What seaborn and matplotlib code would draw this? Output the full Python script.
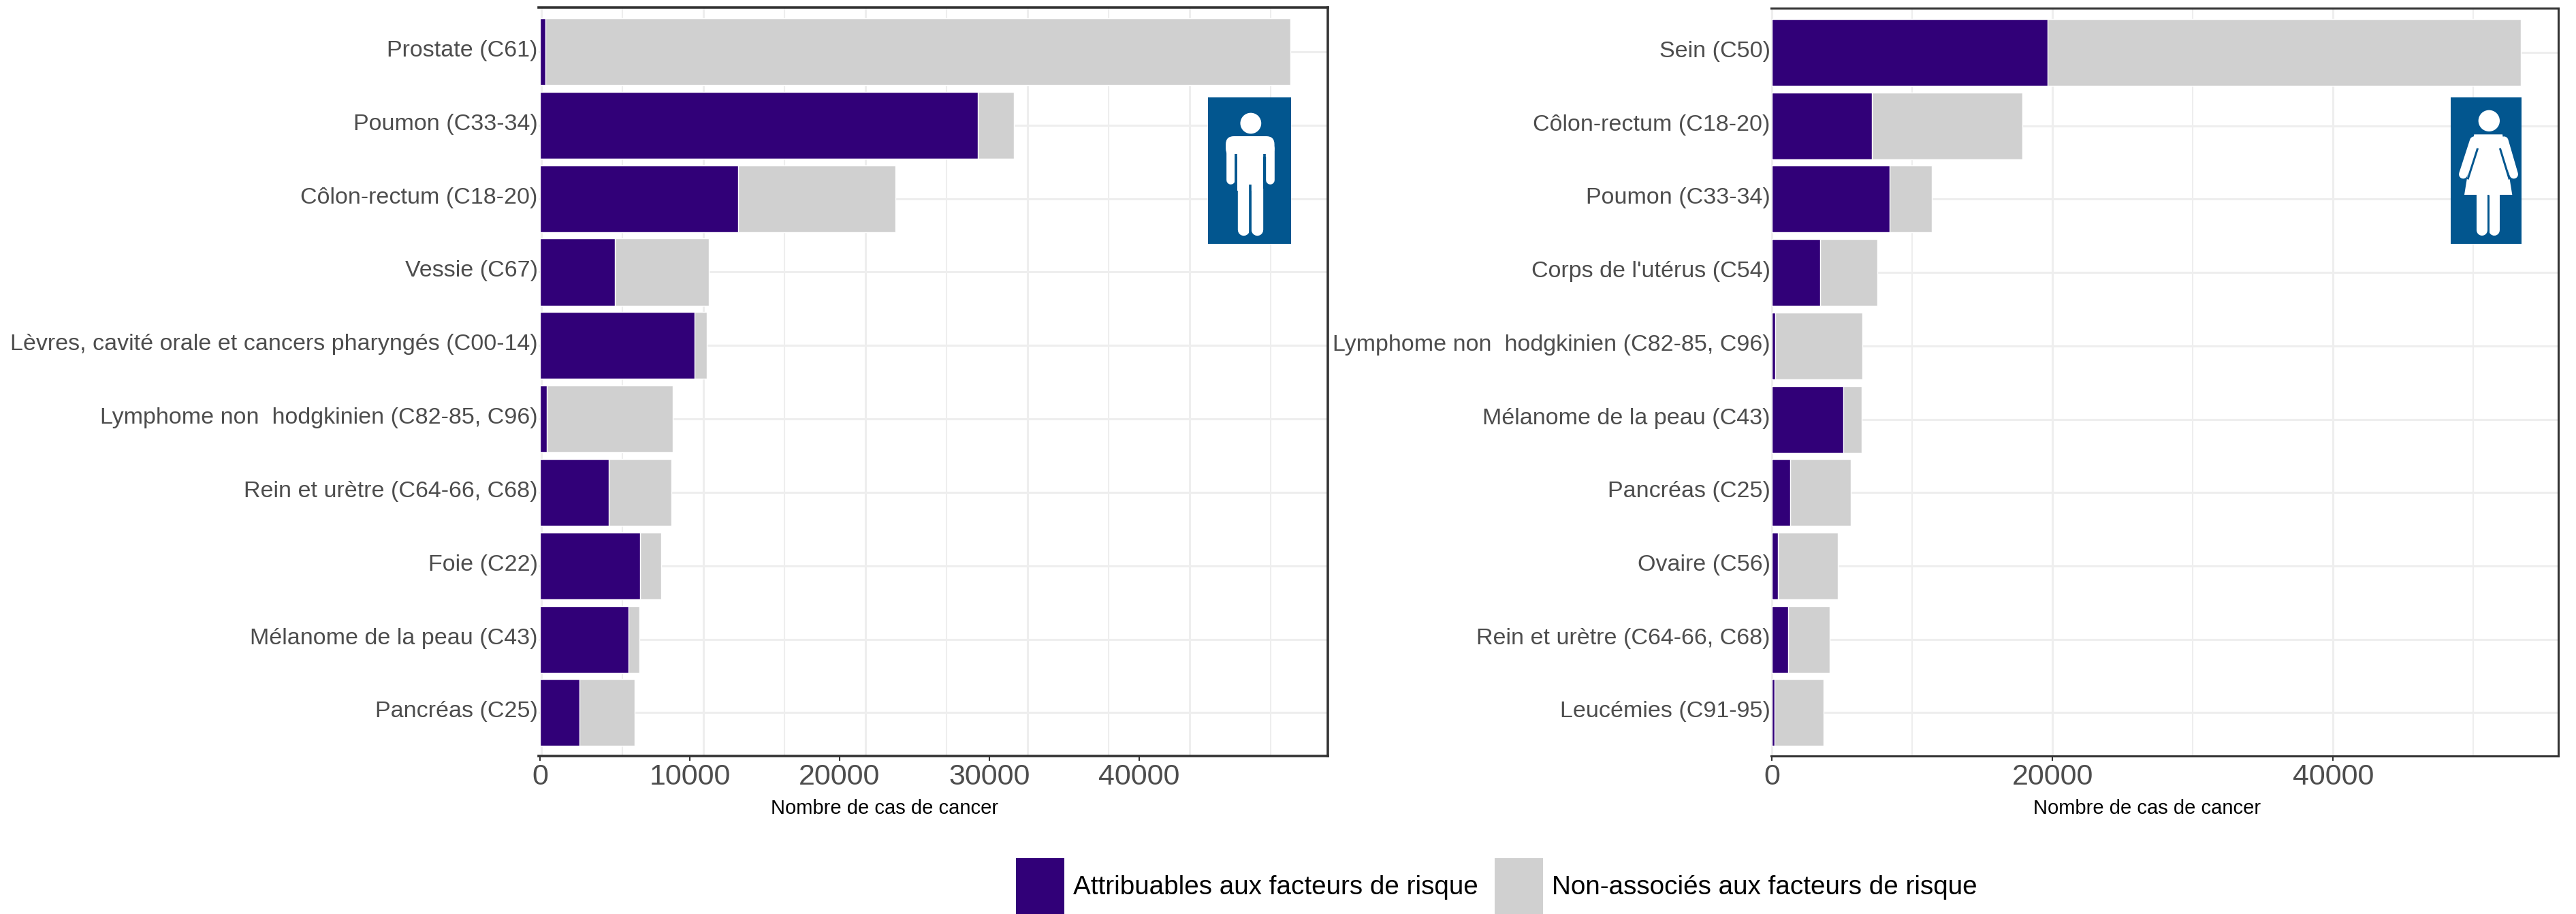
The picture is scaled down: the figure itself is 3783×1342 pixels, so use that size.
import matplotlib
matplotlib.use('Agg')
import matplotlib.pyplot as plt
import matplotlib.transforms as mtrans
from matplotlib.patches import Circle, FancyBboxPatch, Patch, Polygon, Rectangle
import pandas as pd
import seaborn as sns

W, H = 3783, 1342

# men
men_sites = ['Prostate (C61)', 'Poumon (C33-34)', 'Côlon-rectum (C18-20)', 'Vessie (C67)',
             'Lèvres, cavité orale et cancers pharyngés (C00-14)',
             'Lymphome non  hodgkinien (C82-85, C96)', 'Rein et urètre (C64-66, C68)',
             'Foie (C22)', 'Mélanome de la peau (C43)', 'Pancréas (C25)']
men_attrib = [377, 29240, 13245, 4980, 10340, 470, 4610, 6660, 5890, 2650]
men_total = [50090, 31620, 23710, 11290, 11150, 8880, 8770, 8070, 6640, 6330]

# women
women_sites = ['Sein (C50)', 'Côlon-rectum (C18-20)', 'Poumon (C33-34)', "Corps de l'utérus (C54)",
               'Lymphome non  hodgkinien (C82-85, C96)', 'Mélanome de la peau (C43)',
               'Pancréas (C25)', 'Ovaire (C56)', 'Rein et urètre (C64-66, C68)', 'Leucémies (C91-95)']
women_attrib = [19650, 7106, 8377, 3435, 212, 5083, 1294, 424, 1153, 165]
women_total = [53380, 17836, 11389, 7506, 6424, 6377, 5600, 4682, 4094, 3671]

men_ticks = [0, 10000, 20000, 30000, 40000]
women_ticks = [0, 20000, 40000]
legend_labels = ['Attribuables aux facteurs de risque', 'Non-associés aux facteurs de risque']
xlabel = 'Nombre de cas de cancer'

PURPLE = '#310078'
GREY = '#d0d0d0'
FRAME = '#333333'
TEXT = '#4d4d4d'
GRID = '#eeeeee'
ICON = '#02568f'

sns.set_theme(style='white')
plt.rcParams['font.family'] = ['Liberation Sans', 'DejaVu Sans']


def px_axes(x0, x1, y0, y1):
    ''' axes from pixel box, y counted from the top '''
    return fig.add_axes([x0 / W, 1 - y1 / H, (x1 - x0) / W, (y1 - y0) / H])


def draw_panel(ax, sites, attrib, total, ticks, xlim, grid_minor, grid_major, label_x, frame_w):
    df = pd.DataFrame({'site': sites, 'attrib': attrib, 'total': total})
    for y in range(len(sites)):
        ax.axhline(y, color=GRID, lw=2.2, zorder=0)
    for x in grid_minor:
        ax.axvline(x, color=GRID, lw=1.5, zorder=0)
    for x in grid_major:
        ax.axvline(x, color=GRID, lw=2.2, zorder=0)

    sns.barplot(data=df, y='site', x='total', color=GREY, saturation=1, width=0.91, ax=ax, zorder=2)
    sns.barplot(data=df, y='site', x='attrib', color=PURPLE, saturation=1, width=0.91, ax=ax, zorder=3)

    ax.set_xlim(*xlim)
    ax.set_ylim(9.59, -0.603)
    ax.set_xticks(ticks)
    ax.set_xticklabels([str(t) for t in ticks])
    ax.set_ylabel('')
    ax.set_xlabel(xlabel, fontsize=21, color='black')
    ax.xaxis.set_label_coords(label_x, -0.07)
    ax.xaxis.label.set_va('center')
    ax.tick_params(axis='x', labelsize=31, labelcolor=TEXT, length=5, width=1.5, color=FRAME, pad=3, bottom=True)
    ax.tick_params(axis='y', labelsize=24.5, labelcolor=TEXT, length=0, pad=1)
    # labels sit a little above the bar centres
    up = mtrans.ScaledTranslation(0, 5 / 100, fig.dpi_scale_trans)
    for lab in ax.get_yticklabels():
        lab.set_transform(lab.get_transform() + up)

    ax.spines['left'].set_visible(False)
    for side in ['top', 'right', 'bottom']:
        ax.spines[side].set_color(FRAME)
        ax.spines[side].set_linewidth(frame_w)
    ax.set_axisbelow(True)


def icon_axes(x0, x1, y0, y1, d_x, d_y):
    ax = px_axes(x0, x1, y0, y1)
    ax.set_facecolor(ICON)
    ax.set_xlim(*d_x)
    ax.set_ylim(*d_y)
    ax.set_xticks([])
    ax.set_yticks([])
    for s in ax.spines.values():
        s.set_visible(False)
    return ax


def limb(ax, xs, ys, width, color='white', cap='round'):
    # width is in zoomed units, 3 of them to a pixel
    ax.plot(xs, ys, color=color, lw=width / 3 * 0.72, solid_capstyle=cap)


def draw_man(ax):
    ax.add_patch(Circle((1010, 543), 46, color='white', lw=0))
    ax.add_patch(FancyBboxPatch((900, 600), 214, 90, boxstyle='round,pad=0,rounding_size=36',
                                mutation_aspect=1, color='white', lw=0))
    limb(ax, [920, 920], [650, 792], 38)
    limb(ax, [1094, 1094], [650, 792], 38)
    ax.add_patch(Rectangle((950, 620), 114, 220, color='white', lw=0))
    limb(ax, [977, 977], [800, 1012], 52)
    limb(ax, [1037, 1037], [800, 1012], 52)
    limb(ax, [945, 945], [678, 830], 11, ICON, 'butt')
    limb(ax, [1069, 1069], [678, 830], 11, ICON, 'butt')
    limb(ax, [1007, 1007], [812, 1074], 11, ICON, 'butt')


def draw_woman(ax):
    ax.add_patch(Circle((766, 532), 47, color='white', lw=0))
    ax.add_patch(Polygon([(700, 592), (825, 592), (868, 858), (657, 858)], color='white', lw=0))
    limb(ax, [700, 652], [620, 768], 38)
    limb(ax, [832, 875], [620, 768], 38)
    limb(ax, [735, 735], [850, 1014], 48)
    limb(ax, [790, 790], [850, 1014], 48)
    limb(ax, [716, 672], [653, 790], 9, ICON, 'butt')
    limb(ax, [814, 856], [653, 790], 9, ICON, 'butt')
    limb(ax, [763, 763], [858, 1074], 9, ICON, 'butt')


fig = plt.figure(figsize=(W / 100, H / 100), dpi=100, facecolor='white')

ax_men = px_axes(791, 1950, 11, 1110)
ax_women = px_axes(2601, 3757, 12, 1110)

# the grid of the left panel does not line up with its ticks in the reference
men_step = 5410
draw_panel(ax_men, men_sites, men_attrib, men_total, men_ticks, (-91, 52590),
           [90 + men_step * i for i in (1, 3, 5, 7, 9)], [90, *[90 + men_step * i for i in (2, 4, 6, 8)]],
           0.438, 2.6)
draw_panel(ax_women, women_sites, women_attrib, women_total, women_ticks, (-68, 56050),
           [10000, 30000, 50000], [0, 20000, 40000], 0.4775, 2.2)

draw_man(icon_axes(1774, 1896, 143, 358, (822, 1187), (1074, 429)))
draw_woman(icon_axes(3599, 3703, 143, 358, (597, 909), (1074, 429)))

# no narrow face installed, so the size follows the width of the text rather than its height
handles = [Patch(facecolor=PURPLE, edgecolor='none'), Patch(facecolor=GREY, edgecolor='none')]
fig.legend(handles, legend_labels, loc='lower center', bbox_to_anchor=(2198 / W, 0), ncol=2, frameon=False,
           fontsize=27.8, handlelength=1.84, handleheight=2.88, handletextpad=0.33, columnspacing=0.64,
           borderpad=0, borderaxespad=0, labelcolor='black')

fig.savefig('out.png', dpi=100, facecolor='white')
